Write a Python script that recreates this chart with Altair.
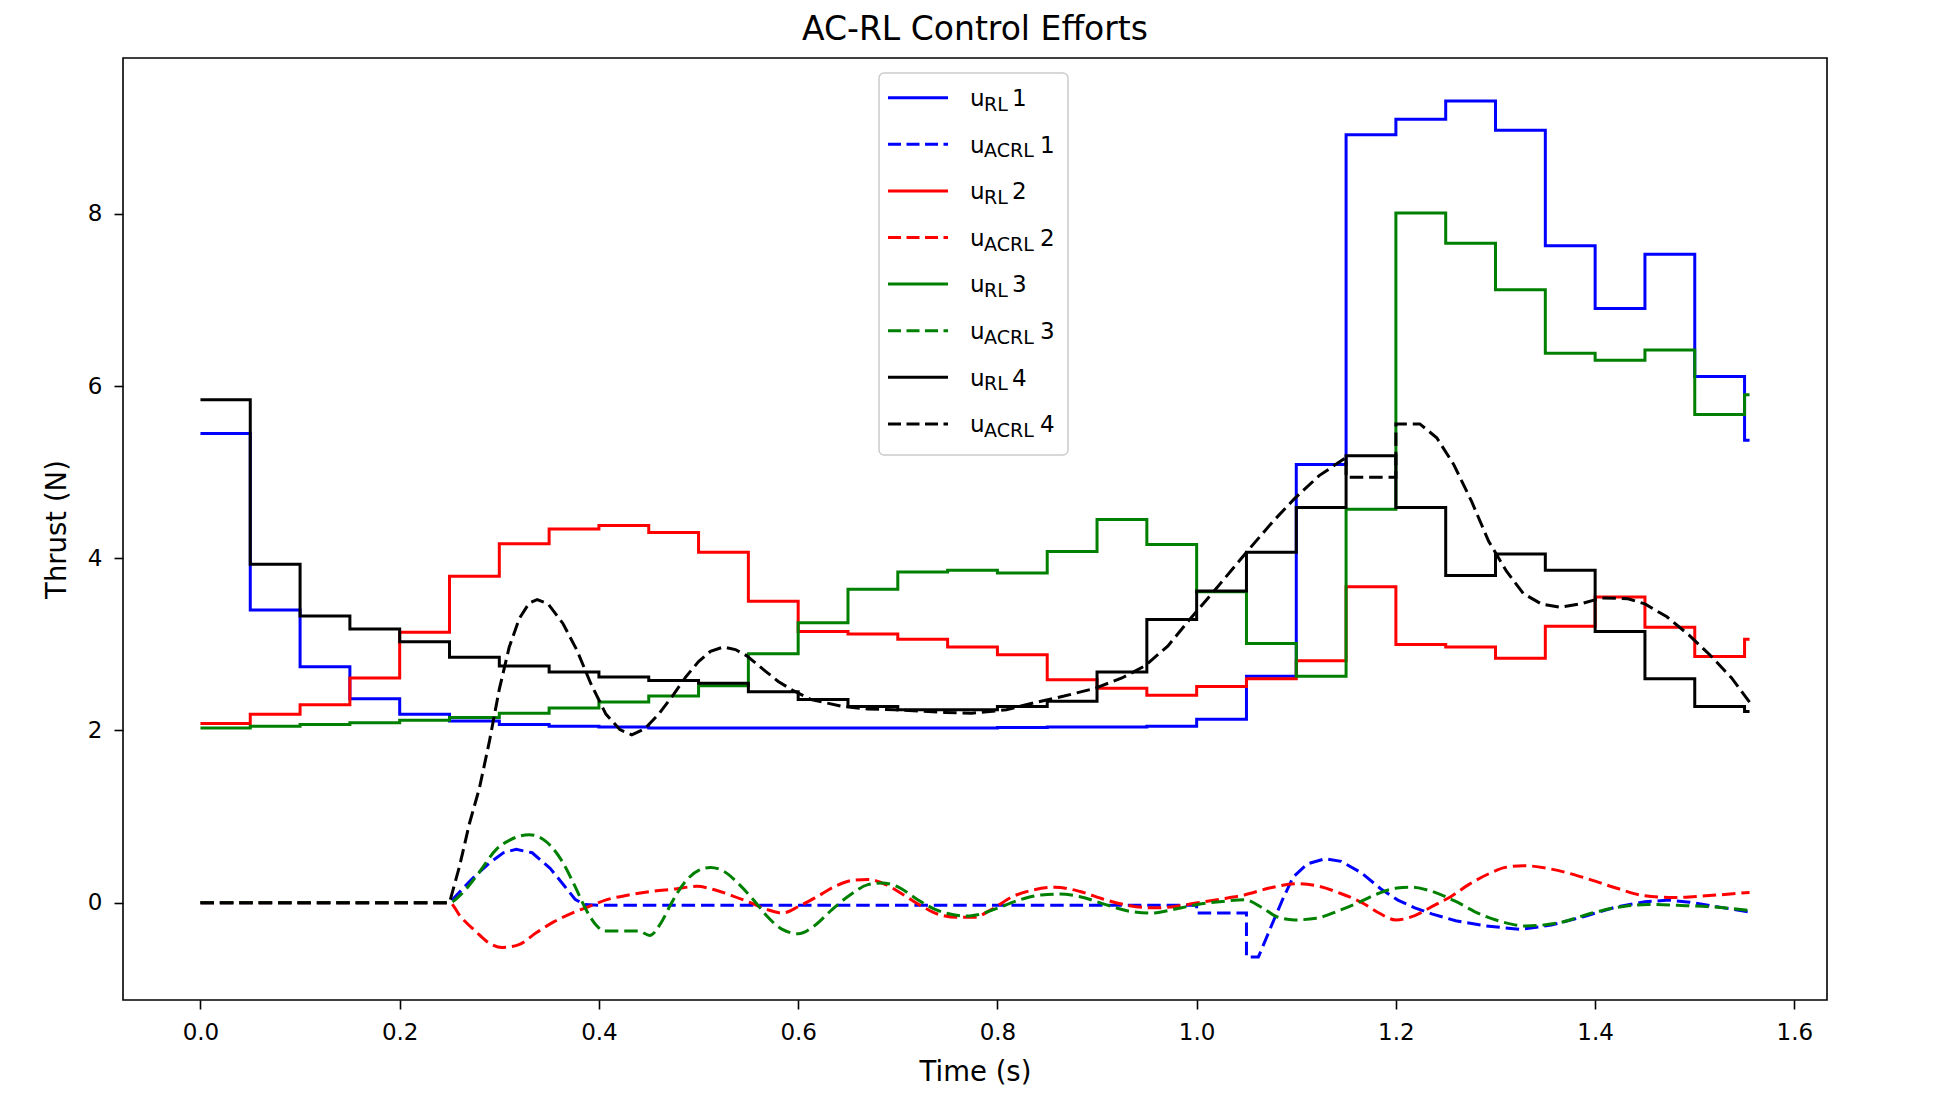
import altair as alt
import pandas as pd

# ---------------- data ----------------
# RL control: piecewise constant, one value per 0.05 s step, last step ends at 1.555 s
step_t = [0.00, 0.05, 0.10, 0.15, 0.20, 0.25, 0.30, 0.35, 0.40, 0.45,
          0.50, 0.55, 0.60, 0.65, 0.70, 0.75, 0.80, 0.85, 0.90, 0.95,
          1.00, 1.05, 1.10, 1.15, 1.20, 1.25, 1.30, 1.35, 1.40, 1.45,
          1.50, 1.55]
t_end = 1.555

u_rl1 = [5.45, 3.40, 2.74, 2.37, 2.19, 2.11, 2.07, 2.05, 2.04, 2.03,
         2.03, 2.03, 2.03, 2.03, 2.03, 2.03, 2.035, 2.04, 2.04, 2.05,
         2.13, 2.63, 5.09, 8.92, 9.10, 9.31, 8.97, 7.63, 6.90, 7.53,
         6.11, 5.37]
u_rl2 = [2.08, 2.19, 2.30, 2.61, 3.14, 3.79, 4.17, 4.34, 4.38, 4.30,
         4.07, 3.50, 3.15, 3.12, 3.06, 2.97, 2.88, 2.59, 2.49, 2.41,
         2.51, 2.60, 2.81, 3.67, 3.00, 2.97, 2.84, 3.21, 3.55, 3.20,
         2.86, 3.06]
u_rl3 = [2.03, 2.05, 2.07, 2.09, 2.12, 2.15, 2.20, 2.26, 2.33, 2.40,
         2.52, 2.89, 3.25, 3.64, 3.84, 3.86, 3.83, 4.08, 4.45, 4.16,
         3.61, 3.01, 2.63, 4.57, 8.01, 7.66, 7.12, 6.38, 6.30, 6.42,
         5.67, 5.90]
u_rl4 = [5.84, 3.93, 3.33, 3.18, 3.03, 2.85, 2.75, 2.68, 2.62, 2.58,
         2.55, 2.45, 2.36, 2.28, 2.24, 2.24, 2.28, 2.34, 2.68, 3.29,
         3.62, 4.07, 4.59, 5.19, 4.59, 3.80, 4.05, 3.86, 3.15, 2.60,
         2.28, 2.22]

# AC-RL control: sampled curves
acrl1_t = [0.0, 0.25, 0.272, 0.29, 0.304, 0.317, 0.333, 0.351, 0.365, 0.376,
           0.385, 0.40, 1.0, 1.0, 1.05, 1.05, 1.062, 1.075, 1.086, 1.097,
           1.111, 1.129, 1.145, 1.165, 1.185, 1.202, 1.219, 1.236, 1.26, 1.29,
           1.325, 1.356, 1.389, 1.421, 1.45, 1.474, 1.495, 1.519, 1.555]
acrl1_v = [0.0, 0.0, 0.27, 0.46, 0.58, 0.62, 0.58, 0.40, 0.20, 0.04,
           -0.02, -0.03, -0.03, -0.12, -0.12, -0.63, -0.63, -0.27, 0.03, 0.30,
           0.45, 0.51, 0.48, 0.35, 0.16, 0.03, -0.06, -0.13, -0.21, -0.27,
           -0.31, -0.26, -0.16, -0.05, 0.01, 0.03, 0.005, -0.04, -0.11]

acrl2_t = [0.0, 0.25, 0.261, 0.276, 0.29, 0.303, 0.319, 0.337, 0.355, 0.373,
           0.391, 0.408, 0.43, 0.452, 0.477, 0.498, 0.516, 0.534, 0.552, 0.569,
           0.584, 0.601, 0.619, 0.637, 0.655, 0.67, 0.688, 0.706, 0.724, 0.742,
           0.76, 0.776, 0.794, 0.815, 0.837, 0.858, 0.883, 0.908, 0.933, 0.958,
           0.98, 1.001, 1.023, 1.048, 1.073, 1.101, 1.123, 1.144, 1.166, 1.183,
           1.2, 1.219, 1.237, 1.255, 1.273, 1.294, 1.31, 1.328, 1.356, 1.389,
           1.421, 1.45, 1.478, 1.511, 1.555]
acrl2_v = [0.0, 0.0, -0.16, -0.33, -0.47, -0.52, -0.49, -0.35, -0.22, -0.12,
           -0.04, 0.035, 0.09, 0.13, 0.16, 0.19, 0.15, 0.08, 0.0, -0.08,
           -0.12, -0.04, 0.07, 0.19, 0.26, 0.27, 0.21, 0.09, -0.04, -0.14,
           -0.17, -0.17, -0.08, 0.07, 0.15, 0.18, 0.13, 0.035, -0.035, -0.06,
           -0.04, 0.0, 0.04, 0.09, 0.17, 0.22, 0.19, 0.11, 0.0, -0.12,
           -0.20, -0.15, -0.04, 0.07, 0.21, 0.34, 0.41, 0.43, 0.39, 0.29,
           0.17, 0.08, 0.06, 0.08, 0.12]

acrl3_t = [0.0, 0.25, 0.261, 0.279, 0.297, 0.311, 0.33, 0.347, 0.362, 0.376,
           0.387, 0.398, 0.405, 0.44, 0.451, 0.462, 0.473, 0.487, 0.501, 0.512,
           0.526, 0.541, 0.555, 0.569, 0.584, 0.60, 0.616, 0.634, 0.652, 0.67,
           0.684, 0.699, 0.72, 0.738, 0.756, 0.77, 0.78, 0.801, 0.823, 0.844,
           0.862, 0.883, 0.908, 0.933, 0.955, 0.98, 1.001, 1.026, 1.048, 1.066,
           1.08, 1.098, 1.12, 1.141, 1.162, 1.183, 1.201, 1.215, 1.234, 1.259,
           1.284, 1.306, 1.33, 1.365, 1.397, 1.43, 1.454, 1.491, 1.519, 1.555]
acrl3_v = [0.0, 0.0, 0.09, 0.34, 0.62, 0.73, 0.79, 0.71, 0.50, 0.19,
           -0.08, -0.27, -0.33, -0.33, -0.38, -0.24, 0.0, 0.25, 0.38, 0.41,
           0.36, 0.21, 0.035, -0.16, -0.31, -0.36, -0.27, -0.08, 0.09, 0.21,
           0.23, 0.19, 0.035, -0.08, -0.14, -0.155, -0.14, -0.06, 0.035, 0.09,
           0.10, 0.07, -0.02, -0.10, -0.12, -0.07, -0.02, 0.015, 0.035, -0.06,
           -0.16, -0.20, -0.18, -0.10, 0.0, 0.11, 0.17, 0.18, 0.14, 0.02,
           -0.13, -0.22, -0.27, -0.23, -0.12, -0.04, -0.02, -0.035, -0.05, -0.09]

acrl4_t = [0.0, 0.25, 0.26, 0.27, 0.28, 0.29, 0.30, 0.31, 0.32, 0.33,
           0.338, 0.349, 0.364, 0.378, 0.392, 0.407, 0.421, 0.433, 0.446, 0.46,
           0.475, 0.487, 0.50, 0.512, 0.525, 0.537, 0.548, 0.567, 0.58, 0.594,
           0.613, 0.644, 0.67, 0.697, 0.747, 0.774, 0.809, 0.836, 0.867, 0.898,
           0.925, 0.948, 0.971, 0.993, 1.019, 1.05, 1.076, 1.098, 1.123, 1.15,
           1.15, 1.20, 1.20, 1.224, 1.241, 1.258, 1.276, 1.293, 1.311, 1.328,
           1.346, 1.365, 1.385, 1.407, 1.433, 1.45, 1.472, 1.494, 1.515, 1.537,
           1.555]
acrl4_v = [0.0, 0.0, 0.42, 0.92, 1.33, 1.87, 2.48, 2.97, 3.30, 3.48,
           3.52, 3.47, 3.24, 2.93, 2.54, 2.19, 2.01, 1.95, 2.02, 2.19,
           2.42, 2.62, 2.80, 2.92, 2.97, 2.94, 2.87, 2.69, 2.57, 2.47,
           2.36, 2.28, 2.25, 2.24, 2.21, 2.20, 2.24, 2.32, 2.40, 2.49,
           2.61, 2.75, 2.98, 3.29, 3.64, 4.07, 4.42, 4.69, 4.96, 5.17,
           4.94, 4.94, 5.56, 5.56, 5.40, 5.09, 4.66, 4.20, 3.85, 3.59,
           3.47, 3.43, 3.47, 3.54, 3.53, 3.47, 3.32, 3.11, 2.88, 2.61,
           2.33]

x_ticks = [0.0, 0.2, 0.4, 0.6, 0.8, 1.0, 1.2, 1.4, 1.6]
y_ticks = [0, 2, 4, 6, 8]

series_colors = ["#0000ff", "#ff0000", "#008000", "#000000"]
legend_subs = ["RL", "ACRL"]

# ---------------- styling constants ----------------
FONT = "DejaVu Sans"
W, H = 1704, 942
LW = 3.0
DASH = [13.5, 5.9]

x_enc = alt.X(
    "t:Q",
    scale=alt.Scale(domain=[-0.07775, 1.63275], nice=False, zero=False),
    axis=alt.Axis(values=x_ticks, format=".1f", title="Time (s)", grid=False,
                  domain=False, tickSize=9, tickWidth=1.6, tickColor="black",
                  labelFont=FONT, labelFontSize=23, labelColor="black",
                  labelPadding=12, labelFlush=False, labelOverlap=False,
                  titleFont=FONT, titleFontSize=27.5, titleFontWeight="normal",
                  titleColor="black", titlePadding=14),
)
y_enc = alt.Y(
    "v:Q",
    scale=alt.Scale(domain=[-1.13, 9.81], nice=False, zero=False),
    axis=alt.Axis(values=y_ticks, format="d", title="Thrust (N)", grid=False,
                  domain=False, tickSize=9, tickWidth=1.6, tickColor="black",
                  labelFont=FONT, labelFontSize=23, labelColor="black",
                  labelPadding=12, labelFlush=False, labelOverlap=False,
                  titleFont=FONT, titleFontSize=27.5, titleFontWeight="normal",
                  titleColor="black", titlePadding=16),
)


def rl_layer(vals, color):
    df = pd.DataFrame({"t": step_t + [t_end], "v": vals + [vals[-1]]})
    return alt.Chart(df).mark_line(
        interpolate="step-after", color=color, strokeWidth=LW
    ).encode(x=x_enc, y=y_enc)


def acrl_layer(ts, vs, color, interp="linear"):
    df = pd.DataFrame({"t": ts, "v": vs, "i": list(range(len(ts)))})
    return alt.Chart(df).mark_line(
        interpolate=interp, color=color, strokeWidth=LW, strokeDash=DASH
    ).encode(x=x_enc, y=y_enc, order=alt.Order("i:Q"))


layers = [
    rl_layer(u_rl1, series_colors[0]),
    acrl_layer(acrl1_t, acrl1_v, series_colors[0]),
    rl_layer(u_rl2, series_colors[1]),
    acrl_layer(acrl2_t, acrl2_v, series_colors[1], "monotone"),
    rl_layer(u_rl3, series_colors[2]),
    acrl_layer(acrl3_t, acrl3_v, series_colors[2], "monotone"),
    rl_layer(u_rl4, series_colors[3]),
    acrl_layer(acrl4_t, acrl4_v, series_colors[3]),
]

# ---------------- legend (drawn by hand to get subscripts) ----------------
dummy = pd.DataFrame({"d": [0]})
layers.append(
    alt.Chart(dummy).mark_rect(
        fill="white", fillOpacity=0.8, stroke="#cccccc", strokeWidth=1.5,
        cornerRadius=5
    ).encode(x=alt.value(756), x2=alt.value(945), y=alt.value(15), y2=alt.value(397))
)
row = 0
for si, color in enumerate(series_colors):
    for kind, sub in enumerate(legend_subs):
        yc = 39.7 + 46.6 * row
        mark_kw = dict(color=color, strokeWidth=LW)
        if kind == 1:
            mark_kw["strokeDash"] = [13, 5.5]
        layers.append(
            alt.Chart(dummy).mark_rule(**mark_kw).encode(
                x=alt.value(765), x2=alt.value(825), y=alt.value(yc))
        )
        layers.append(
            alt.Chart(dummy).mark_text(
                text="u", font=FONT, fontSize=23, align="left",
                baseline="alphabetic", color="black"
            ).encode(x=alt.value(847), y=alt.value(yc + 8.3))
        )
        layers.append(
            alt.Chart(dummy).mark_text(
                text=sub, font=FONT, fontSize=19, align="left",
                baseline="alphabetic", color="black"
            ).encode(x=alt.value(861), y=alt.value(yc + 13))
        )
        layers.append(
            alt.Chart(dummy).mark_text(
                text=str(si + 1), font=FONT, fontSize=23, align="left",
                baseline="alphabetic", color="black"
            ).encode(x=alt.value(889 if kind == 0 else 917), y=alt.value(yc + 8.3))
        )
        row += 1

chart = alt.layer(*layers).properties(
    width=W,
    height=H,
    title=alt.Title("AC-RL Control Efforts", font=FONT, fontSize=33,
                    fontWeight="normal", color="black", anchor="middle",
                    offset=11),
    padding={"left": 115, "top": 50, "right": 101, "bottom": 94},
    autosize=alt.AutoSizeParams(type="none"),
).configure_view(stroke="black", strokeWidth=1.6)

chart.save("out.html", embed_options={"renderer": "svg", "actions": False})
